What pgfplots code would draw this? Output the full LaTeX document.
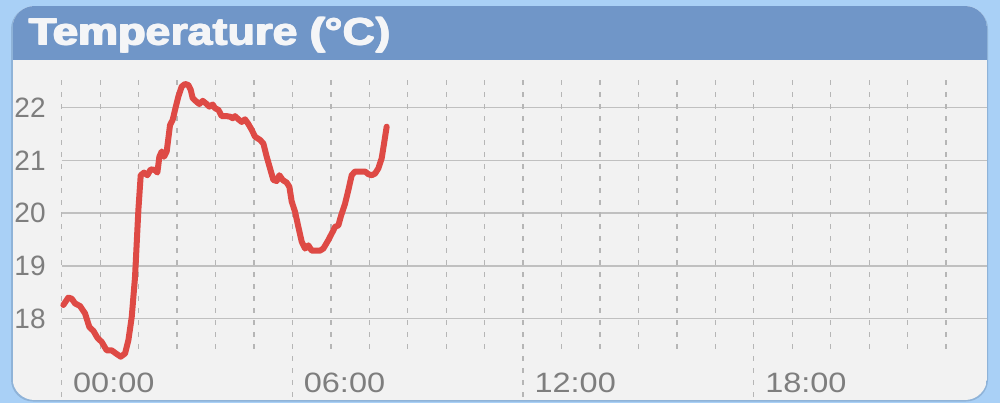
\documentclass[border=0pt]{standalone}
\usepackage{pgfplots}
\pgfplotsset{compat=1.18}
\usepackage{fontspec}
\setmainfont{Liberation Sans}
\newfontfamily\titlefont{Liberation Sans}[UprightFont={* Bold}]
\newfontfamily\labelfont{Liberation Sans}
\definecolor{bgblue}{HTML}{A9D0F6}
\definecolor{headblue}{HTML}{7096C8}
\definecolor{bodygray}{HTML}{F2F2F2}
\definecolor{titlewhite}{HTML}{F4F5F7}
\definecolor{labelgray}{HTML}{7E7E7E}
\definecolor{gridgray}{HTML}{C0C0C0}
\definecolor{dashgray}{HTML}{B6B6B6}
\definecolor{linered}{HTML}{DE4A45}
\definecolor{shadowblue}{HTML}{8FB3D8}
\begin{document}
\begin{tikzpicture}[x=0.5pt,y=0.5pt]
\fill[bgblue] (0,0) rectangle (1000,403);
\fill[shadowblue, rounded corners=11] (11,1.5) rectangle (988,396);
\begin{scope}
\clip[rounded corners=11] (12.5,3) rectangle (987,397);
\fill[bodygray] (12.5,3) rectangle (987,397);
\fill[headblue] (12.5,343) rectangle (987,397);
\end{scope}
\foreach \dx/\dy in {0/0,1.3/0,0/0.7,1.3/0.7,0.65/0.35}{
\node[anchor=base west, inner sep=0pt, text=titlewhite] at (28.5+\dx,358+\dy)
  {\scalebox{1.19}[1]{\fontsize{18.85pt}{22pt}\titlefont Temperature (°C)}};
}
\begin{axis}[
  at={(30.85pt,1.5pt)}, anchor=south west,
  scale only axis, width=462.65pt, height=160pt,
  xmin=0, xmax=24.065, ymin=16.459, ymax=22.525,
  axis line style={draw=none},
  major tick style={draw=none}, minor tick style={draw=none},
  ytick={18,19,20,21,22},
  ymajorgrids, grid style={gridgray, line width=0.75pt},
  xtick={0,6,12,18},
  xticklabels={00:00,06:00,12:00,18:00},
  xticklabel style={anchor=base west, inner sep=0pt, xshift=5.5pt, yshift=4pt,
    text=labelgray, font=\fontsize{14pt}{16pt}\labelfont, xscale=1.16},
  yticklabel style={anchor=east, inner sep=0pt, xshift=-7.85pt,
    text=labelgray, font=\fontsize{14pt}{16pt}\labelfont},
  /pgf/number format/assume math mode=true,
  clip=false,
]
\pgfplotsinvokeforeach{1,2,3,4,5,7,8,9,10,11,13,14,15,16,17,19,20,21,22,23}{
  \draw[dashgray, line width=0.65pt, dash pattern=on 2.5pt off 3.5pt] (axis cs:#1,22.525) -- (axis cs:#1,17.37);
}
\pgfplotsinvokeforeach{0,6,12,18}{
  \draw[dashgray, line width=0.65pt, dash pattern=on 2.5pt off 3.5pt] (axis cs:#1,22.525) -- (axis cs:#1,16.459);
}
\addplot[linered, line width=3pt, line join=round, line cap=round] coordinates {
(0.043,18.26) (0.173,18.40) (0.26,18.38) (0.347,18.29) (0.477,18.24) (0.607,18.10)
(0.72,17.84) (0.824,17.77) (0.928,17.64) (1.040,17.56) (1.170,17.40) (1.300,17.40)
(1.413,17.34) (1.534,17.28) (1.647,17.34) (1.734,17.59) (1.821,18.03) (1.907,18.79)
(1.994,20.06) (2.055,20.72) (2.141,20.77) (2.228,20.72) (2.315,20.83) (2.427,20.82)
(2.488,20.77) (2.540,21.07) (2.601,21.17) (2.661,21.07) (2.731,21.17) (2.774,21.42)
(2.817,21.67) (2.887,21.77) (2.948,21.96) (3.034,22.21) (3.121,22.40) (3.208,22.45)
(3.294,22.43) (3.355,22.34) (3.407,22.18) (3.511,22.11) (3.580,22.07) (3.667,22.13)
(3.754,22.08) (3.841,22.02) (3.927,22.06) (3.988,21.99) (4.075,21.96) (4.161,21.84)
(4.291,21.84) (4.378,21.83) (4.447,21.80) (4.508,21.84) (4.595,21.78) (4.681,21.73)
(4.768,21.78) (4.855,21.69) (4.942,21.58) (5.028,21.45) (5.158,21.39) (5.245,21.32)
(5.332,21.07) (5.418,20.85) (5.505,20.63) (5.592,20.61) (5.661,20.72) (5.748,20.63)
(5.852,20.58) (5.921,20.50) (5.982,20.22) (6.068,20.03) (6.155,19.74) (6.242,19.46)
(6.329,19.33) (6.415,19.39) (6.502,19.29) (6.589,19.29) (6.719,19.29) (6.805,19.33)
(6.935,19.49) (7.048,19.65) (7.109,19.74) (7.196,19.77) (7.256,19.93) (7.369,20.18)
(7.456,20.44) (7.542,20.72) (7.629,20.79) (7.759,20.79) (7.889,20.79) (7.976,20.74)
(8.062,20.72) (8.149,20.75) (8.236,20.85) (8.322,21.04) (8.383,21.32) (8.452,21.64)
};
\end{axis}
\end{tikzpicture}
\end{document}
